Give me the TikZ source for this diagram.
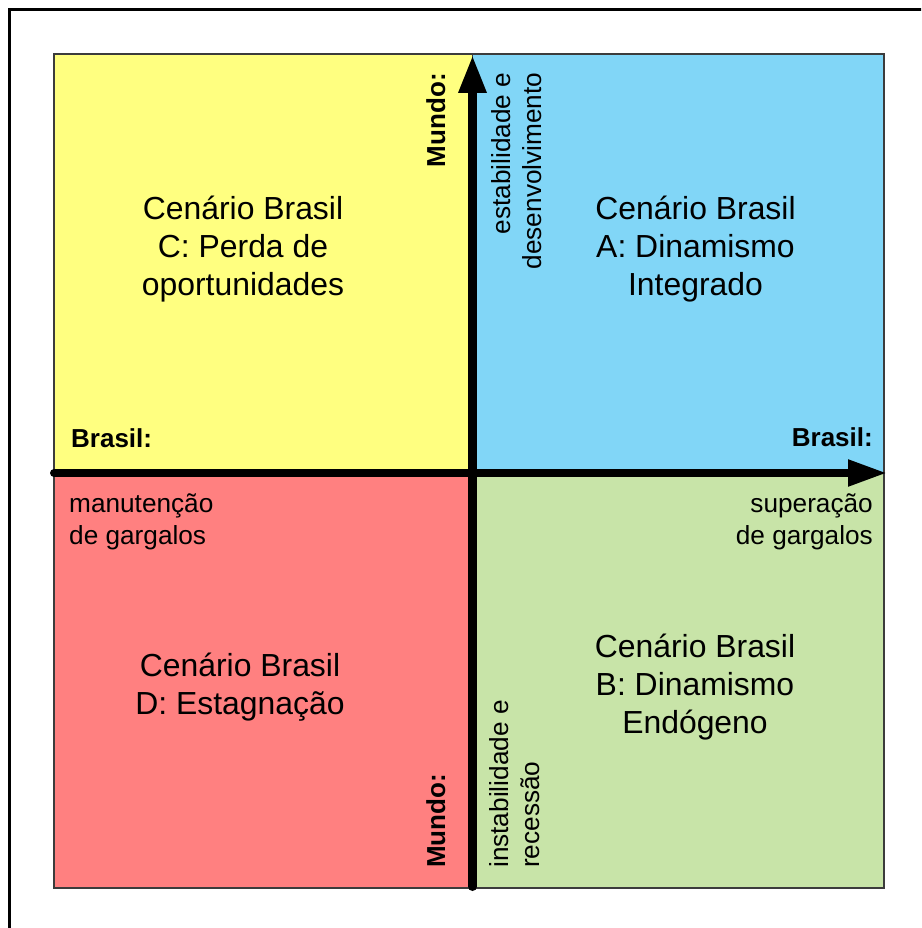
\documentclass[tikz,border=0pt]{standalone}
\usepackage{fontspec}
\setmainfont{Liberation Sans}
\usetikzlibrary{arrows.meta}
\definecolor{qyellow}{HTML}{FFFF80}
\definecolor{qblue}{HTML}{81D6F7}
\definecolor{qred}{HTML}{FF8080}
\definecolor{qgreen}{HTML}{C8E4A8}
\definecolor{qborder}{HTML}{3C3C3C}
\tikzset{
  quad/.style={draw=qborder, line width=1.2pt},
  bigtext/.style={font=\fontsize{31.9}{38}\selectfont, align=center, inner sep=0pt, anchor=north},
  smalltext/.style={font=\fontsize{26.2}{31.5}\selectfont, inner sep=0pt},
  boldtext/.style={font=\fontsize{26}{31}\selectfont\bfseries, inner sep=0pt},
  vaxis/.style={line width=9pt, line cap=round, -{Triangle[width=26pt,length=38pt]}},
  haxis/.style={line width=8pt, line cap=round, -{Triangle[width=25pt,length=39pt]}},
  frame/.style={line width=3pt}
}
\begin{document}
\begin{tikzpicture}[x=1pt,y=-1pt]
\useasboundingbox (0,0) rectangle (921,928);
\clip (0,0) rectangle (921,928);
% outer frame (cropped at right and bottom)
\draw[frame] (930,9.3) -- (9.5,9.3) -- (9.5,935);
% quadrants
\path[quad, fill=qyellow] (54,54) rectangle (472.5,473);
\path[quad, fill=qblue] (472.5,54) rectangle (884,473);
\path[quad, fill=qred] (54,473) rectangle (472.5,888);
\path[quad, fill=qgreen] (472.5,473) rectangle (884,888);
% axes
\coordinate (vbot) at (472.5,886.5);
\coordinate (vtop) at (472.5,55);
\coordinate (hleft) at (54,473);
\coordinate (hright) at (887,473);
\draw[haxis] (hleft) -- (hright);
\draw[vaxis] (vbot) -- (vtop);
% scenario texts
\node[bigtext] (C) at (243,195.5) {Cenário Brasil\\C: Perda de\\oportunidades};
\node[bigtext] (A) at (695.5,195.5) {Cenário Brasil\\A: Dinamismo\\Integrado};
\node[bigtext] (D) at (240,652.5) {Cenário Brasil\\D: Estagnação};
\node[bigtext] (B) at (695,633.5) {Cenário Brasil\\B: Dinamismo\\Endógeno};
% horizontal axis labels
\node[boldtext, anchor=base west] (brl) at (71,447) {Brasil:};
\node[boldtext, anchor=base east] (brr) at (873,446) {Brasil:};
\node[smalltext, align=left, anchor=north west] (manut) at (69,494) {manutenção\\de gargalos};
\node[smalltext, align=right, anchor=north east] (super) at (873,494) {superação\\de gargalos};
% vertical axis labels
\node[boldtext, rotate=90, anchor=base east] (mtop) at (445,73) {Mundo:};
\node[smalltext, rotate=90, align=right, anchor=north east] (estab) at (491,72.5) {estabilidade e\\desenvolvimento};
\node[boldtext, rotate=90, anchor=base west] (mbot) at (445,868) {Mundo:};
\node[smalltext, rotate=90, align=left, anchor=north west] (instab) at (489,868) {instabilidade e\\recessão};
\end{tikzpicture}
\end{document}
